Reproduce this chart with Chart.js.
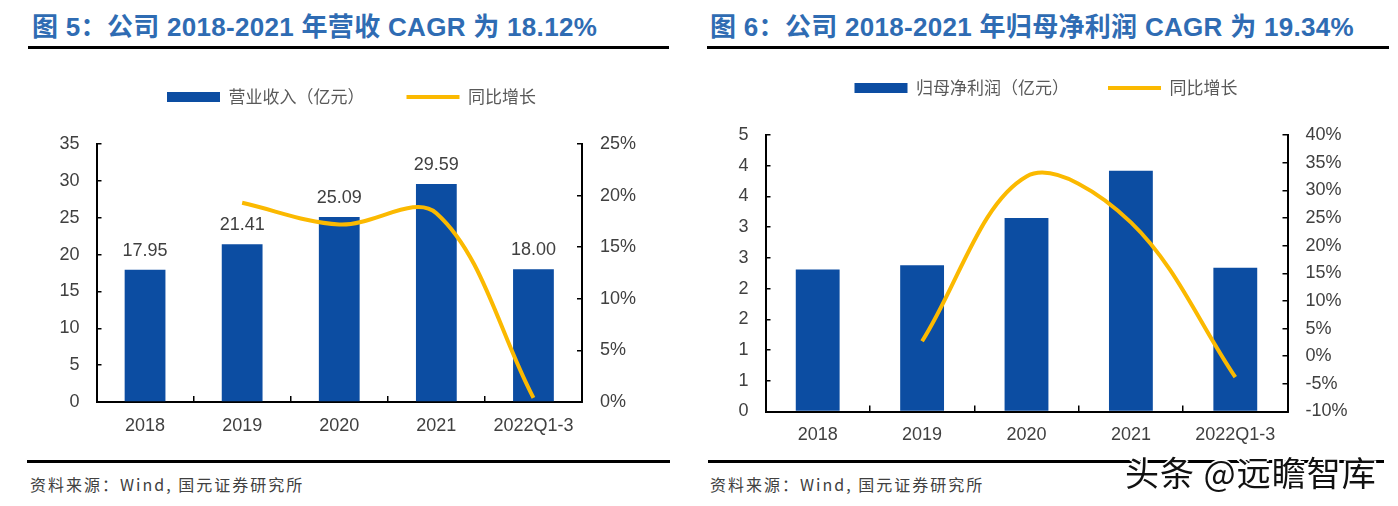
<!DOCTYPE html>
<html lang="zh-CN">
<head>
<meta charset="UTF-8">
<title>营收与归母净利润</title>
<script src="https://cdn.jsdelivr.net/npm/chart.js"></script>
<style>
  html,body{margin:0;padding:0;background:#fff}
  body{width:1398px;height:506px;position:relative;overflow:hidden;font-family:"Liberation Sans","Noto Sans CJK SC",sans-serif}
  canvas{position:absolute;top:0}
  .title{position:absolute;top:11px;font-size:26px;line-height:32px;letter-spacing:0.3px;font-weight:bold;color:#2f6cb3;white-space:nowrap}
  .rule{position:absolute;height:3px;background:#000}
  .src{position:absolute;top:473px;font-size:16px;line-height:22px;letter-spacing:2px;color:#404040;white-space:nowrap;font-family:"Noto Sans CJK SC",sans-serif}
  .mark{position:absolute;left:1125px;top:451px;font-size:34px;line-height:42px;letter-spacing:1px;color:#111;white-space:nowrap;
        font-family:"Noto Sans CJK SC",sans-serif;text-shadow:-2px 0 #fff,2px 0 #fff,0 -2px #fff,0 2px #fff}
</style>
</head>
<body>
<div class="title" style="left:32px">图 5：公司 2018-2021 年营收 CAGR 为 18.12%</div>
<div class="rule" style="left:28px;width:641px;top:46px"></div>
<div class="title" style="left:710px">图 6：公司 2018-2021 年归母净利润 CAGR 为 19.34%</div>
<div class="rule" style="left:707px;width:682px;top:46px"></div>

<canvas id="revChart" width="703" height="450" style="left:0"></canvas>
<canvas id="profitChart" width="692" height="460" style="left:700px"></canvas>

<div class="rule" style="left:27px;width:643px;top:460px"></div>
<div class="rule" style="left:708px;width:676px;top:460px"></div>
<div class="src" style="left:30px">资料来源：Wind, 国元证券研究所</div>
<div class="src" style="left:710px">资料来源：Wind, 国元证券研究所</div>
<div class="mark">头条 @远瞻智库</div>

<script>
const years = ['2018', '2019', '2020', '2021', '2022Q1-3'];

// 图5 营收
const revenue = [17.95, 21.41, 25.09, 29.59, 18.00];
const revenueGrowth = [null, 19.3, 17.2, 18.3, 0.4];
const revenueTicks = ['0', '5', '10', '15', '20', '25', '30', '35'];
const revenueGrowthTicks = ['0%', '5%', '10%', '15%', '20%', '25%'];

// 图6 归母净利润
const netProfit = [2.31, 2.38, 3.15, 3.92, 2.34];
const profitGrowth = [null, 2.7, 32.5, 24.2, -3.8];
const profitTicks = ['0', '1', '1', '2', '2', '3', '3', '4', '4', '5'];
const profitGrowthTicks = ['-10%', '-5%', '0%', '5%', '10%', '15%', '20%', '25%', '30%', '35%', '40%'];

const BAR = '#0c4da2';
const LINE = '#fbb900';
const TXT = '#404040';
const numFont = {family: '"Liberation Sans", Arial, sans-serif', size: 18};

// fixed legend height so the plot top lands where the original has it
function legendHeight(h) {
  return {
    id: 'legendHeight',
    beforeInit(chart) {
      const fit = chart.legend.fit;
      chart.legend.fit = function () { fit.call(this); this.height = h; };
    }
  };
}

const barLabels = {
  id: 'barLabels',
  afterDatasetsDraw(chart) {
    const ctx = chart.ctx;
    const meta = chart.getDatasetMeta(0);
    const vals = chart.data.datasets[0].data;
    ctx.save();
    ctx.font = '18px "Liberation Sans", Arial, sans-serif';
    ctx.fillStyle = TXT;
    ctx.textAlign = 'center';
    ctx.textBaseline = 'alphabetic';
    meta.data.forEach((bar, i) => ctx.fillText(vals[i].toFixed(2), bar.x, bar.y - 14));
    ctx.restore();
  }
};

function makeChart(id, o) {
  return new Chart(document.getElementById(id), {
    data: {
      labels: years,
      datasets: [
        {type: 'bar', label: o.barLabel, data: o.bars, yAxisID: 'y', order: 1,
         backgroundColor: BAR, borderWidth: 0, pointStyle: 'rect',
         barPercentage: 0.42, categoryPercentage: 1},
        {type: 'line', label: '同比增长', data: o.growth, yAxisID: 'y1', order: 0,
         borderColor: LINE, backgroundColor: LINE, borderWidth: 4, pointRadius: 0,
         pointStyle: 'line', tension: 0.35}
      ]
    },
    options: {
      responsive: false,
      animation: false,
      layout: {padding: {top: o.padTop, bottom: o.padBottom, left: 0, right: 0}},
      plugins: {
        tooltip: {enabled: false},
        legend: {
          position: 'top',
          labels: {
            usePointStyle: true, pointStyleWidth: 53, boxHeight: 10,
            padding: o.legendGap, color: '#595959',
            font: {family: '"Noto Sans CJK SC", sans-serif', size: 17},
            sort: (a, b) => a.datasetIndex - b.datasetIndex
          }
        }
      },
      scales: {
        x: {
          grid: {offset: true, drawOnChartArea: false, tickLength: -6, color: '#000', lineWidth: 1.5},
          border: {color: '#000', width: 2},
          ticks: {color: TXT, font: numFont, padding: 19, maxRotation: 0, autoSkip: false},
          afterFit(s) { s.height = 40; }
        },
        y: {
          position: 'left', min: o.yMin, max: o.yMax,
          grid: {drawOnChartArea: false, tickLength: -5, color: '#000', lineWidth: 1.5},
          border: {color: '#000', width: 2},
          ticks: {stepSize: o.yStep, color: TXT, font: numFont, padding: 22,
                  callback: (v, i) => o.yTicks[i]},
          afterFit(s) { s.width = o.leftW; }
        },
        y1: {
          position: 'right', min: o.gMin, max: o.gMax,
          grid: {drawOnChartArea: false, tickLength: -5, color: '#000', lineWidth: 1.5},
          border: {color: '#000', width: 2},
          ticks: {stepSize: 5, color: TXT, font: numFont, padding: 23,
                  callback: (v, i) => o.gTicks[i]},
          afterFit(s) { s.width = o.rightW; }
        }
      }
    },
    plugins: o.plugins
  });
}

makeChart('revChart', {
  barLabel: '营业收入（亿元）', bars: revenue, growth: revenueGrowth,
  yMin: 0, yMax: 35, yStep: 5, yTicks: revenueTicks,
  gMin: 0, gMax: 25, gTicks: revenueGrowthTicks,
  padTop: 46.5, padBottom: 8, legendGap: 42, leftW: 96.5, rightW: 121,
  plugins: [legendHeight(97.5), barLabels]
});

makeChart('profitChart', {
  barLabel: '归母净利润（亿元）', bars: netProfit, growth: profitGrowth,
  yMin: 0, yMax: 4.5, yStep: 0.5, yTicks: profitTicks,
  gMin: -10, gMax: 40, gTicks: profitGrowthTicks,
  padTop: 40.5, padBottom: 8.5, legendGap: 39, leftW: 65.5, rightW: 104.5,
  plugins: [legendHeight(94.5)]
});
</script>
</body>
</html>
